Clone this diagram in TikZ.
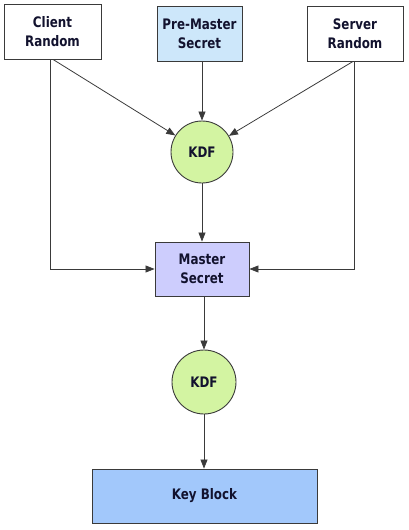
\documentclass[tikz,border=0pt]{standalone}
\usepackage{fontspec}
\setmainfont{DejaVu Sans}[BoldFeatures={FakeStretch=0.82}]
\usetikzlibrary{arrows.meta,calc}
\definecolor{txt}{HTML}{12122E}
\definecolor{pmsfill}{HTML}{CDE7FA}
\definecolor{msfill}{HTML}{CDCDFD}
\definecolor{kdffill}{HTML}{D3F4A2}
\definecolor{kbfill}{HTML}{A2C8FB}
\definecolor{edge}{HTML}{3A3A3A}
\begin{document}
\begin{tikzpicture}[x=1pt,y=-1pt,
  lbl/.style={font=\bfseries\fontsize{14.5}{19}\selectfont, text=txt, align=center, inner sep=0pt},
  boxnode/.style={lbl, draw=edge, line width=0.9pt, rectangle},
  kdfnode/.style={lbl, draw=edge, line width=0.9pt, circle, fill=kdffill, minimum size=62pt},
  arr/.style={draw=edge, line width=0.8pt, -{Triangle[length=9pt,width=7pt]}}]
\useasboundingbox (0,0) rectangle (408,530);
\node[boxnode, fill=white, minimum width=97pt, minimum height=55pt] (client) at (52.5,31.5) {Client\\Random};
\node[boxnode, fill=pmsfill, minimum width=85pt, minimum height=55pt] (pms) at (199.5,33.5) {Pre-Master\\Secret};
\node[boxnode, fill=white, minimum width=96pt, minimum height=55pt] (server) at (355,33.5) {Server\\Random};
\node[kdfnode] (kdf1) at (202,152) {KDF};
\node[boxnode, fill=msfill, minimum width=94pt, minimum height=54pt] (master) at (202,269) {Master\\Secret};
\node[kdfnode, minimum size=64pt] (kdf2) at (204,382) {KDF};
\node[boxnode, fill=kbfill, minimum width=225pt, minimum height=54pt] (kb) at (204.5,496) {Key Block};
\coordinate (clv) at (50,0);
\coordinate (cld) at (53,0);
\coordinate (svv) at (354,0);
\coordinate (svd) at (353,0);
% client
\draw[arr] (client.south -| clv) |- (master.west);
\draw[arr] (client.south -| cld) -- (kdf1);
% server
\draw[arr] (server.south -| svv) |- (master.east);
\draw[arr] (server.south -| svd) -- (kdf1);
% centre chain
\draw[arr] (kdf1.north |- pms.south) -- (kdf1.north);
\draw[arr] (kdf1.south) -- (master.north -| kdf1.south);
\draw[arr] (master.south -| kdf2.north) -- (kdf2.north);
\draw[arr] (kdf2.south) -- (kb.north -| kdf2.south);
\end{tikzpicture}
\end{document}
